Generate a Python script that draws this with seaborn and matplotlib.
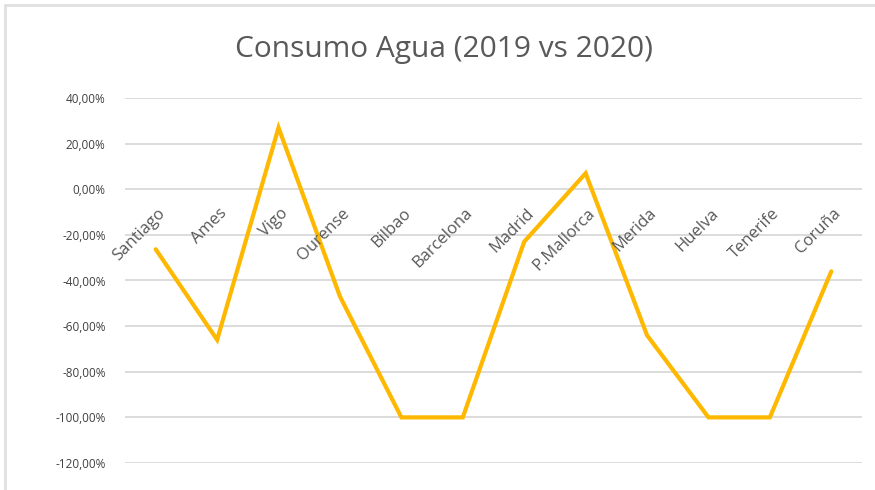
import matplotlib
matplotlib.use("Agg")
import matplotlib.pyplot as plt
import seaborn as sns
import pandas as pd
from matplotlib.ticker import FuncFormatter
from matplotlib.lines import Line2D

ciudades = ["Santiago", "Ames", "Vigo", "Ourense", "Bilbao", "Barcelona",
            "Madrid", "P.Mallorca", "Merida", "Huelva", "Tenerife", "Coruña"]
variacion = [-26.3, -66.0, 27.0, -47.0, -100.0, -100.0,
             -23.0, 7.0, -64.0, -100.0, -100.0, -36.0]
y_ticks = [40, 20, 0, -20, -40, -60, -80, -100, -120]
titulo = "Consumo Agua (2019 vs 2020)"

sns.set_theme(style="white")
plt.rcParams["font.family"] = ["Open Sans", "DejaVu Sans"]

df = pd.DataFrame({"ciudad": ciudades, "pos": range(len(ciudades)), "valor": variacion})

fig = plt.figure(figsize=(8.75, 4.9), dpi=100)
ax = fig.add_axes([125 / 875, (490 - 463) / 490, (862 - 125) / 875, (463 - 98) / 490])

sns.lineplot(data=df, x="pos", y="valor", ax=ax, color="#FFB800", linewidth=3.0,
             solid_joinstyle="miter")

ax.set_xlim(-0.5, len(ciudades) - 0.5)
ax.set_ylim(-120, 40)
ax.set_yticks(y_ticks)
ax.yaxis.set_major_formatter(FuncFormatter(lambda v, p: f"{v:.2f}%".replace(".", ",")))
ax.set_xticks([])
ax.set_xlabel("")
ax.set_ylabel("")
ax.grid(axis="y", color="#D9D9D9", linewidth=1.3)
ax.set_axisbelow(True)
for s in ax.spines.values():
    s.set_visible(False)
ax.tick_params(axis="y", length=0, pad=14, labelsize=8.5, labelcolor="#404040")

for i, name in enumerate(ciudades):
    ax.text(i + 0.03, -7, name, rotation=45, rotation_mode="anchor",
            ha="right", va="top", fontsize=12, color="#595959")

fig.text(0.507, 0.898, titulo, ha="center", va="center", fontsize=21.5, color="#595959")

# outer chart frame (top and left edges visible)
fig.add_artist(Line2D([5 / 875, 1], [1 - 5 / 490, 1 - 5 / 490], transform=fig.transFigure,
                      color="#E0E0E0", linewidth=2))
fig.add_artist(Line2D([5 / 875, 5 / 875], [0, 1 - 5 / 490], transform=fig.transFigure,
                      color="#E0E0E0", linewidth=2))

fig.savefig("out.png", dpi=100, facecolor="white")
